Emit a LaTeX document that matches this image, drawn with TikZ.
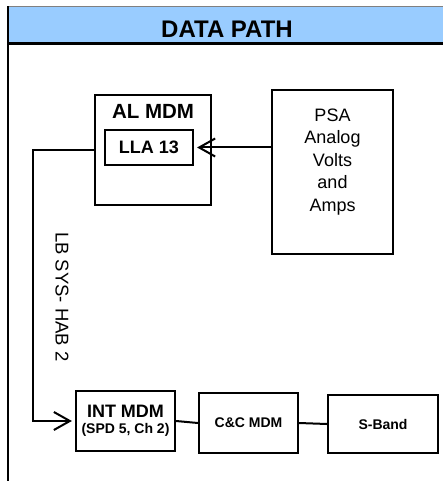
\documentclass[tikz,border=0pt]{standalone}
\usepackage{fontspec}
\setmainfont{Liberation Sans}
\usetikzlibrary{arrows.meta}
\definecolor{headblue}{RGB}{153,204,255}
\tikzstyle{block} = [rectangle, draw=black, line width=2.2pt, inner sep=0pt, text centered]
\tikzstyle{boxtext} = [font=\fontsize{18}{21}\selectfont\bfseries]
\tikzstyle{smalltext} = [font=\fontsize{14}{16}\selectfont\bfseries]
\tikzstyle{link} = [line width=2pt]
\tikzstyle{arrow} = [link, -{Straight Barb[length=16pt,width=18pt,line width=2pt]}, shorten >=3pt]

\begin{document}
\begin{tikzpicture}[x=1pt, y=-1pt]
        \useasboundingbox (0,0) rectangle (442,481);
        % Frame
        \fill[headblue] (8,7) rectangle (446,44);
        \draw[gray, line width=1pt] (8,7) -- (446,7);
        \draw[line width=3pt] (8,44) -- (446,44);
        \draw[line width=2.2pt] (8,6.5) -- (8,481);
        \node (head) at (227,29) {\fontsize{24}{28}\selectfont\bfseries DATA PATH};

        % Nodes
        \node (almdm) [block, minimum width=116pt, minimum height=110pt] at (153,150) {};
        \node (altitle) [font=\fontsize{20.5}{24}\selectfont\bfseries] at (153,111) {AL MDM};
        \node (lla) [block, boxtext, minimum width=88pt, minimum height=35pt] at (149,147.5) {LLA 13};
        \node (psa) [block, minimum width=121pt, minimum height=164pt] at (332.5,172) {};
        \node (psatext) [align=center, font=\fontsize{18}{22.5}\selectfont] at (332.5,162) {PSA\\Analog\\Volts\\and\\Amps};
        \node (intmdm) [block, minimum width=99pt, minimum height=60pt, align=center] at (125.5,421)
            {\fontsize{18}{21}\selectfont\bfseries INT MDM\\[4pt]\fontsize{14}{16}\selectfont\bfseries (SPD 5, Ch 2)};
        \node (ccmdm) [block, smalltext, minimum width=99pt, minimum height=60pt] at (248.5,423) {C\&C MDM};
        \node (sband) [block, smalltext, minimum width=110pt, minimum height=58pt] at (383,424) {S-Band};

        % Arrows
        \draw [arrow] (psa.west |- lla.east) -- (lla.east);
        \draw [arrow] (almdm.west) -- ++(-61,0) |- (intmdm.west);
        \node (lbsys) [rotate=-90, font=\fontsize{18.5}{21}\selectfont] at (62,297) {LB SYS- HAB 2};
        \draw [link] (intmdm.east) -- (ccmdm.west);
        \draw [link] (ccmdm.east) -- (sband.west);
    \end{tikzpicture}
\end{document}
